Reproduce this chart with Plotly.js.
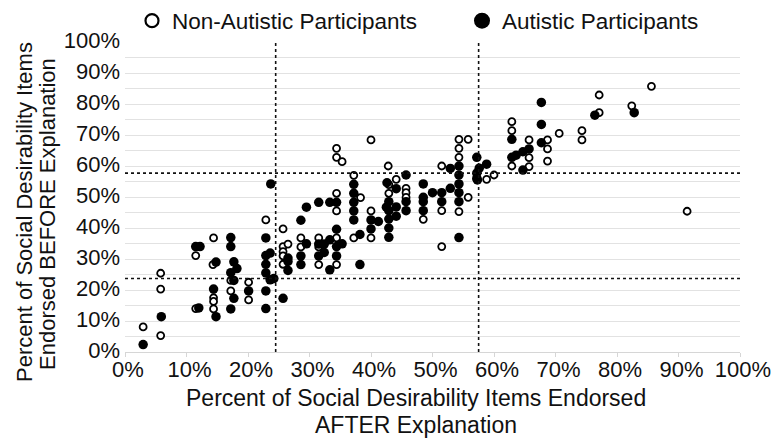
<!DOCTYPE html>
<html>
<head>
<meta charset="utf-8">
<script src="https://cdn.plot.ly/plotly-3.0.1.min.js"></script>
<style>
  html, body { margin: 0; padding: 0; background: #ffffff; }
  #chart { width: 778px; height: 439px; }
</style>
</head>
<body>
<div id="chart"></div>
<script>
// Non-autistic participants (open circles): percent AFTER (x) and BEFORE (y)
const nonAutisticAfter = [
  2.95, 5.8, 5.8, 5.8, 11.5, 11.5, 14.4, 14.3, 14.4, 14.4, 14.4,
  17.2, 17.2, 20.1, 20.1, 22.9, 25.7, 25.7, 25.7, 26.5, 25.7, 25.7,
  28.6, 28.6, 31.5, 31.5, 31.5, 34.4, 34.4, 34.4, 34.4, 35.3, 34.4, 34.4,
  37.2, 38.3, 37.2, 40.0, 40.0, 40.0, 42.8, 42.9, 42.9, 44.1, 45.7, 45.7, 45.7,
  48.5, 51.5, 51.5, 51.5, 54.3, 54.3, 54.3, 54.3, 55.8, 55.8, 58.8, 60.0,
  62.9, 62.9, 62.9, 65.7, 65.7, 65.7, 68.7, 68.7, 68.7, 70.6, 74.3, 74.3,
  77.1, 77.1, 82.4, 85.6, 91.4
];
const nonAutisticBefore = [
  8.1, 25.4, 20.3, 5.3, 31.1, 14.0, 36.8, 28.2, 17.5, 16.3, 13.9,
  23.1, 19.7, 22.5, 16.8, 42.6, 39.7, 34.0, 32.4, 34.8, 31.0, 28.3,
  36.8, 33.9, 36.8, 33.9, 28.2, 36.8, 28.2, 65.7, 62.8, 61.4, 51.2, 45.5,
  57.0, 49.8, 36.8, 45.5, 36.8, 68.4, 60.0, 54.0, 51.2, 55.7, 52.8, 51.4, 49.9,
  42.8, 60.0, 45.6, 34.0, 68.6, 65.7, 62.8, 45.3, 68.6, 49.9, 55.7, 57.1,
  74.3, 71.4, 60.0, 68.4, 62.7, 59.8, 68.4, 65.5, 61.6, 70.5, 71.4, 68.4,
  82.9, 77.2, 79.4, 85.7, 45.4
];

// Autistic participants (filled circles)
const autisticAfter = [
  2.95, 5.9, 11.5, 12.2, 12.0, 14.8, 14.4, 14.8, 17.2, 17.2, 17.7, 18.2,
  17.2, 17.7, 17.7, 17.2, 20.1, 22.9, 22.9, 23.6, 22.9, 22.9, 23.6, 24.2,
  22.9, 22.9, 25.7, 23.7, 26.5, 26.5, 26.5, 28.6, 28.6, 28.6, 29.5, 29.5,
  31.5, 33.3, 31.5, 32.4, 31.5, 32.4, 33.3, 33.3, 34.4, 34.4, 34.4, 34.4,
  35.3, 37.2, 37.2, 37.2, 37.2, 37.2, 38.2, 38.2, 40.0, 41.2, 40.0, 42.6,
  42.9, 42.5, 42.9, 42.9, 42.9, 42.9, 44.1, 44.1, 44.1, 45.7, 45.7, 45.7,
  48.5, 48.5, 48.5, 48.5, 50.0, 51.5, 51.5, 52.9, 52.9, 54.3, 54.3, 54.3,
  54.3, 54.3, 54.3, 57.2, 57.2, 57.2, 57.3, 57.6, 58.8, 62.9, 62.9, 63.6,
  64.7, 64.7, 65.7, 67.7, 67.7, 67.7, 76.4, 82.8
];
const autisticBefore = [
  2.4, 11.4, 34.0, 34.0, 14.2, 29.0, 20.3, 11.4, 36.9, 34.0, 29.1, 26.9,
  25.6, 23.1, 17.3, 13.9, 19.7, 36.8, 31.1, 31.9, 28.3, 25.5, 23.3, 23.7,
  19.7, 14.0, 17.3, 54.2, 30.3, 29.2, 26.3, 42.5, 31.0, 28.2, 46.7, 34.9,
  48.3, 48.3, 34.8, 34.8, 31.0, 32.1, 36.2, 26.5, 48.3, 39.6, 34.0, 31.0,
  34.9, 54.1, 51.2, 48.3, 45.5, 42.6, 37.9, 28.2, 42.6, 42.1, 39.7, 54.6,
  48.5, 46.7, 45.6, 42.9, 40.0, 37.0, 52.7, 46.8, 43.8, 57.1, 48.5, 45.6,
  54.2, 49.9, 48.5, 45.6, 51.4, 51.4, 48.5, 59.2, 52.8, 60.0, 57.1, 54.2,
  51.4, 48.5, 36.9, 62.8, 57.7, 56.0, 55.5, 59.3, 60.6, 68.6, 62.8, 63.5,
  64.6, 58.7, 65.5, 80.5, 73.4, 67.5, 76.4, 77.2
];

// Reference (dashed) cut-off lines
const cutoffAfter = [24.5, 57.5];   // vertical lines, x
const cutoffBefore = [23.7, 57.7];  // horizontal lines, y

const groupNames = ['Non-Autistic Participants', 'Autistic Participants'];
const tickValues = [0, 10, 20, 30, 40, 50, 60, 70, 80, 90, 100];
const tickLabels = ['0%', '10%', '20%', '30%', '40%', '50%', '60%', '70%', '80%', '90%', '100%'];
const xTitleLines = ['Percent of Social Desirability Items Endorsed', 'AFTER Explanation'];
const yTitleLines = ['Percent of Social Desirability Items', 'Endorsed BEFORE Explanation'];

const FONT = 'Liberation Sans, Arial, Helvetica, sans-serif';
const INK = '#111111';

// plot area in pixels (for placing text in paper coordinates)
const W = 778, H = 439, ML = 125, MR = 38, MT = 42, MB = 87;
const PW = W - ML - MR, PH = H - MT - MB;
const px2x = p => (p - ML) / PW;
const px2y = p => (H - MB - p) / PH;

const traces = [
  {
    type: 'scatter', mode: 'markers', name: groupNames[0], showlegend: false,
    x: nonAutisticAfter, y: nonAutisticBefore,
    marker: { symbol: 'circle', size: 7, color: '#ffffff', line: { color: '#000000', width: 1.8 } }
  },
  {
    type: 'scatter', mode: 'markers', name: groupNames[1], showlegend: false,
    x: autisticAfter, y: autisticBefore,
    marker: { symbol: 'circle', size: 9.5, color: '#000000', line: { width: 0 } }
  },
  // legend entries with larger symbols
  {
    type: 'scatter', mode: 'markers', name: groupNames[0], x: [null], y: [null], legend: 'legend',
    marker: { symbol: 'circle', size: 13, color: '#ffffff', line: { color: '#000000', width: 2.2 } }
  },
  {
    type: 'scatter', mode: 'markers', name: groupNames[1], x: [null], y: [null], legend: 'legend2',
    marker: { symbol: 'circle', size: 16, color: '#000000', line: { width: 0 } }
  }
];

const shapes = [];
cutoffAfter.forEach(v => shapes.push({
  type: 'line', xref: 'x', yref: 'y', x0: v, x1: v, y0: 0, y1: 100,
  line: { color: INK, width: 1.6, dash: '3px,3px' }
}));
cutoffBefore.forEach(v => shapes.push({
  type: 'line', xref: 'x', yref: 'y', x0: 0, x1: 100, y0: v, y1: v,
  line: { color: INK, width: 1.6, dash: '3px,3px' }
}));

const legendBase = {
  orientation: 'h', yanchor: 'middle', y: px2y(21), xanchor: 'left',
  font: { family: FONT, size: 22.5, color: INK },
  itemsizing: 'trace', bgcolor: 'rgba(0,0,0,0)', borderwidth: 0
};

const annotations = [
  { text: xTitleLines[0], xref: 'paper', yref: 'paper', x: px2x(416), y: px2y(398),
    xanchor: 'center', yanchor: 'middle', showarrow: false,
    font: { family: FONT, size: 23, color: INK } },
  { text: xTitleLines[1], xref: 'paper', yref: 'paper', x: px2x(416), y: px2y(425),
    xanchor: 'center', yanchor: 'middle', showarrow: false,
    font: { family: FONT, size: 23, color: INK } },
  { text: yTitleLines[0], xref: 'paper', yref: 'paper', x: px2x(24), y: px2y(212),
    xanchor: 'center', yanchor: 'middle', showarrow: false, textangle: -90,
    font: { family: FONT, size: 22, color: INK } },
  { text: yTitleLines[1], xref: 'paper', yref: 'paper', x: px2x(47), y: px2y(214),
    xanchor: 'center', yanchor: 'middle', showarrow: false, textangle: -90,
    font: { family: FONT, size: 22, color: INK } }
];

const layout = {
  width: W, height: H,
  margin: { l: ML, r: MR, t: MT, b: MB, pad: 0, autoexpand: false },
  paper_bgcolor: '#ffffff', plot_bgcolor: '#ffffff',
  font: { family: FONT, color: INK, size: 22 },
  showlegend: true,
  legend: Object.assign({}, legendBase, { x: px2x(132) }),
  legend2: Object.assign({}, legendBase, { x: px2x(462) }),
  xaxis: {
    range: [0, 100], tickmode: 'array', tickvals: tickValues, ticktext: tickLabels,
    showgrid: false, zeroline: false, showline: true, linecolor: '#d6d6d6', linewidth: 1,
    ticks: 'outside', ticklen: 4, tickcolor: '#d6d6d6',
    ticklabelstandoff: -6, ticklabelshift: 3,
    tickfont: { family: FONT, size: 22, color: INK },
    automargin: false, fixedrange: true
  },
  yaxis: {
    range: [0, 100], tickmode: 'array', tickvals: tickValues, ticktext: tickLabels,
    showgrid: true, gridcolor: '#e2e2e2', gridwidth: 1,
    minor: { dtick: 5, tick0: 0, showgrid: true, gridcolor: '#e2e2e2', gridwidth: 1 },
    zeroline: false, showline: false, ticks: '',
    ticklabelstandoff: 4, ticklabelshift: -2,
    tickfont: { family: FONT, size: 22, color: INK },
    automargin: false, fixedrange: true
  },
  shapes: shapes,
  annotations: annotations,
  hovermode: 'closest'
};

Plotly.newPlot('chart', traces, layout, { displayModeBar: false, staticPlot: true });
</script>
</body>
</html>
